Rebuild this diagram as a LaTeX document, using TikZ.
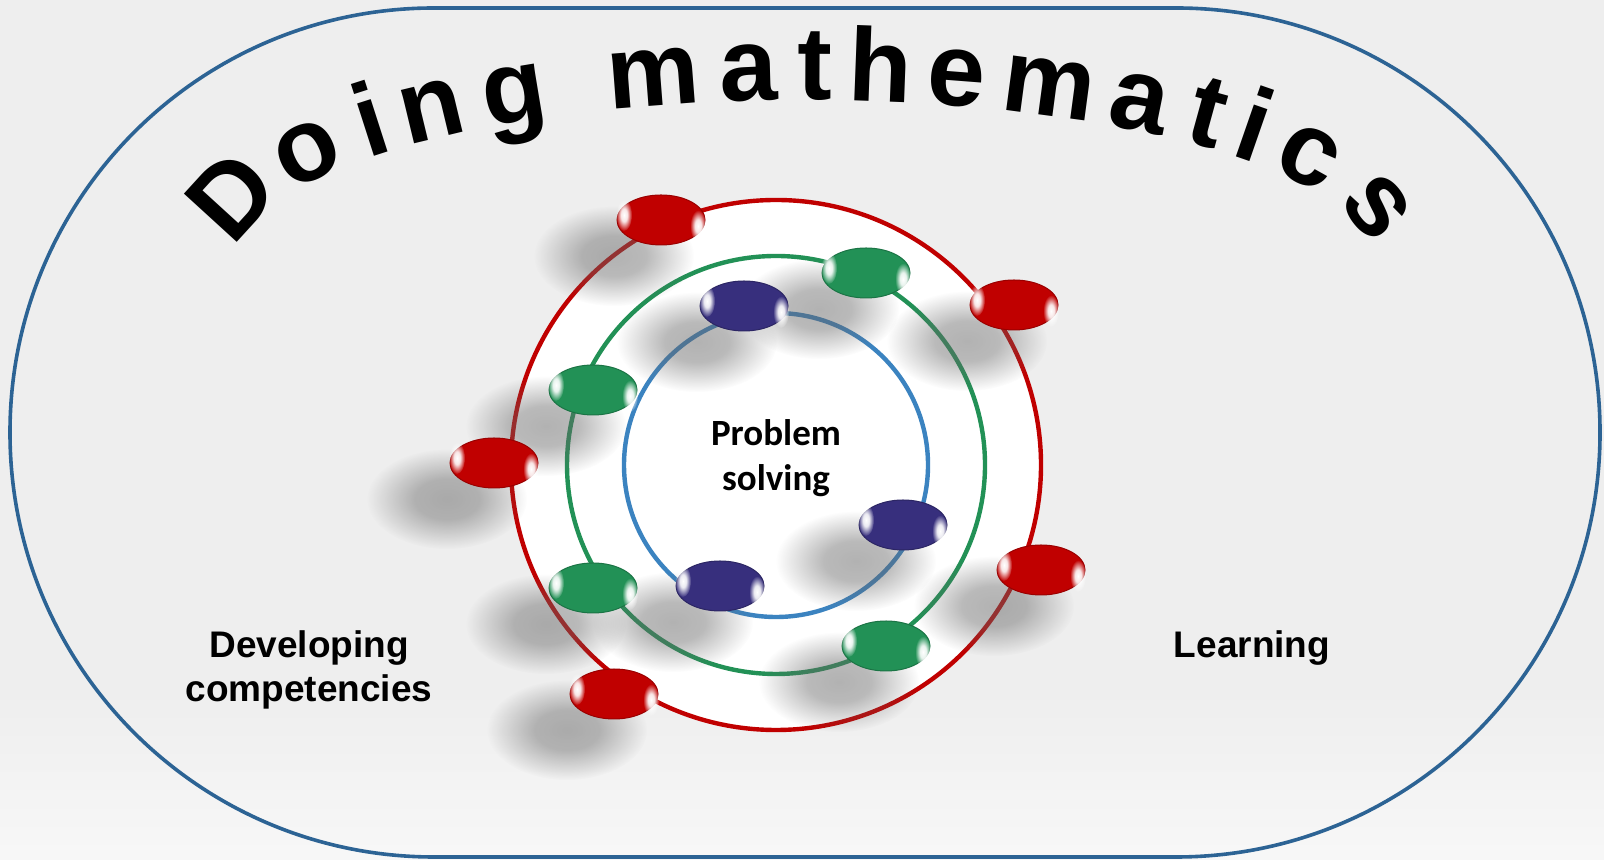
\documentclass[tikz,border=0pt]{standalone}
\usepackage{fontspec}
\setmainfont{Liberation Sans}
\newfontfamily\psfont{Carlito}
\usetikzlibrary{shapes.geometric,fadings}

\definecolor{dmFrame}{RGB}{44,99,148}
\definecolor{dmRed}{RGB}{192,0,0}
\definecolor{dmGreen}{RGB}{34,145,86}
\definecolor{dmBlue}{RGB}{59,131,192}
\definecolor{dmPurple}{RGB}{55,47,125}
\definecolor{dmBack}{RGB}{238,238,238}

% soft fading with a flat middle, used for shadows and gleams
\pgfdeclareradialshading{softshade}{\pgfpointorigin}{color(0bp)=(pgftransparent!0);
  color(10bp)=(pgftransparent!10); color(25bp)=(pgftransparent!100); color(50bp)=(pgftransparent!100)}
\pgfdeclarefading{softedge}{\pgfuseshading{softshade}}

\tikzset{
  ringline/.style={line width=2.2pt},
  bead/.style={ellipse, minimum width=44pt, minimum height=25pt, inner sep=0pt,
    fill=#1, draw=#1!80!black, line width=0.5pt},
  gleam/.style={fill=white, path fading=softedge},
  beadshadow/.style={fill=black!60, path fading=softedge, opacity=0.5},
  sidetext/.style={font=\bfseries\fontsize{18.5}{22}\selectfont, align=center},
  titlechar/.style={font=\bfseries\fontsize{52}{60}\selectfont, anchor=base, inner sep=0pt}
}

% bead positions: name/x/y
\def\redbeads{r1/661/640, r2/1014/555, r3/494/397, r4/1041/290, r5/614/166}
\def\greenbeads{g1/866/587, g2/593/470, g3/593/272, g4/886/214}
\def\bluebeads{b1/744/554, b2/903/335, b3/720/274}

\begin{document}
\begin{tikzpicture}[x=0.5pt, y=0.5pt]
  \useasboundingbox (0,0) rectangle (1604,860);
  \fill[dmBack] (0,0) rectangle (1604,860);
  \shade[top color=dmBack, bottom color=black!3] (0,0) rectangle (1604,170);

  % frame
  \draw[dmFrame, line width=1.8pt, rounded corners=212pt] (10,3) rectangle (1600,852);

  % rings
  \coordinate (hub) at (776,395);
  \fill[white] (hub) circle[radius=265];
  \draw[ringline, dmRed] (hub) circle[radius=265];
  \draw[ringline, dmGreen] (hub) circle[radius=209];
  \draw[ringline, dmBlue] (hub) circle[radius=152];

  % shadows
  \foreach \n/\x/\y in \redbeads
    \fill[beadshadow] ({\x-47},{\y-36}) ellipse[x radius=80, y radius=50];
  \foreach \n/\x/\y in \greenbeads
    \fill[beadshadow] ({\x-47},{\y-36}) ellipse[x radius=80, y radius=50];
  \foreach \n/\x/\y in \bluebeads
    \fill[beadshadow] ({\x-47},{\y-36}) ellipse[x radius=80, y radius=50];

  % beads
  \foreach \n/\x/\y in \redbeads
    \node[bead=dmRed] (\n) at (\x,\y) {};
  \foreach \n/\x/\y in \greenbeads
    \node[bead=dmGreen] (\n) at (\x,\y) {};
  \foreach \n/\x/\y in \bluebeads
    \node[bead=dmPurple] (\n) at (\x,\y) {};
  \foreach \n in {r1,r2,r3,r4,r5,g1,g2,g3,g4,b1,b2,b3} {
    \fill[gleam] ([shift={(-37,5)}]\n.center) ellipse[x radius=8, y radius=16];
    \fill[gleam] ([shift={(37,-6)}]\n.center) ellipse[x radius=8, y radius=16];
  }

  % labels
  \node[sidetext, font=\psfont\bfseries\fontsize{18.5}{22.5}\selectfont] (ps) at (776,402) {Problem\\solving};
  \node[sidetext] (dev) at (309,190) {Developing\\competencies};
  \node[sidetext] (learn) at (1252,212) {Learning};

  % title along the arch
  \foreach \ch/\p [count=\k] in {D/165.5, o/149.3, i/138.6, n/130.4, g/120.4,
      m/105.3, a/95.7, t/89, h/82.4, e/74.7, m/64.8, a/54.4, t/45.8, i/39.2, c/29.6, s/12.8}
    \node[titlechar, rotate={atan2(-160*cos(\p),565*sin(\p))}] (ttl\k)
      at ({805+565*cos(\p)},{600+160*sin(\p)}) {\ch};
\end{tikzpicture}
\end{document}
